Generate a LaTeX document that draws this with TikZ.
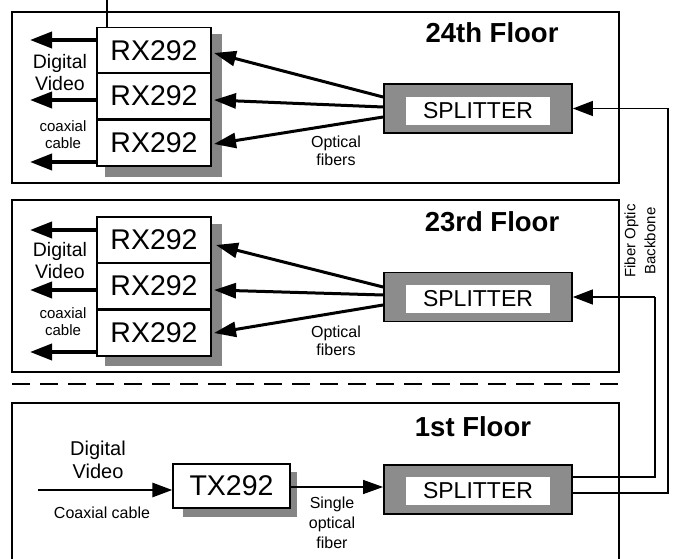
\documentclass[tikz,border=0pt]{standalone}
\usepackage{fontspec}
\setmainfont{Liberation Sans}
\usetikzlibrary{arrows.meta}
\definecolor{shadowgray}{HTML}{858585}
\definecolor{splitgray}{HTML}{8C8C8C}
\tikzset{
  floorbox/.style={draw, line width=1.3pt},
  rxbox/.style={draw, fill=white, line width=1.2pt, minimum width=114pt, minimum height=46pt, inner sep=0pt, font=\fontsize{28.5}{30}\selectfont},
  shadowbox/.style={fill=shadowgray},
  splitbox/.style={draw, fill=splitgray, line width=1.8pt, minimum width=188pt, minimum height=49pt, inner sep=0pt},
  splittext/.style={fill=white, minimum width=144pt, minimum height=28pt, inner sep=0pt, font=\fontsize{23}{25}\selectfont},
  floortitle/.style={inner sep=0pt, font=\bfseries\fontsize{27.5}{29}\selectfont},
  lbl/.style={inner sep=0pt, align=center, font=\fontsize{16}{18}\selectfont},
  lblbig/.style={inner sep=0pt, align=center, font=\fontsize{20}{23}\selectfont},
  outarrow/.style={line width=3.8pt, -{Triangle[length=22pt,width=16pt]}},
  fiberarrow/.style={line width=3pt, -{Triangle[length=22pt,width=15pt]}},
  inarrow/.style={line width=2.8pt, -{Triangle[length=20pt,width=14pt]}},
  thinarrow/.style={line width=1.3pt, -{Triangle[length=20pt,width=14pt]}},
  bbline/.style={line width=1.3pt},
  bbarrow/.style={line width=1.3pt, -{Triangle[length=20pt,width=15pt]}},
}
\begin{document}
\begin{tikzpicture}[x=1pt, y=-1pt]
\useasboundingbox (0,0) rectangle (673,559);

% ---------- floor boxes ----------
\draw[floorbox] (12,12) rectangle (619,183);
\draw[floorbox] (12,200) rectangle (619,372);
\draw[floorbox] (12,403) rectangle (619,570);
\draw[line width=1.3pt, dash pattern=on 18pt off 10pt] (12,384) -- (619,384);

% ---------- 24th floor ----------
\fill[shadowbox] (105,34) rectangle (222,177);
\node[rxbox] (r24a) at (154,50.5) {RX292};
\node[rxbox] (r24b) at (154,96) {RX292};
\node[rxbox] (r24c) at (154,143) {RX292};
\coordinate (top) at (107,0);
\draw[line width=1.2pt] (top) -- (top |- r24a.north);

\coordinate (o24a) at (30,40);
\coordinate (o24b) at (30,100);
\coordinate (o24c) at (30,162);
\draw[outarrow] (r24a.west |- o24a) -- (o24a);
\draw[outarrow] (r24b.west |- o24b) -- (o24b);
\draw[outarrow] (r24c.west |- o24c) -- (o24c);
\node[lbl, font=\fontsize{19.5}{22}\selectfont] (dv24) at (60,73) {Digital\\Video};
\node[lbl, font=\fontsize{15}{17}\selectfont] (cc24) at (63,134.5) {coaxial\\cable};

\node[splitbox] (s24) at (478,108.5) {};
\node[splittext] (s24t) at (478,111) {SPLITTER};
\node[floortitle] (f24) at (492,33) {24th Floor};

\coordinate (t24a) at (214,53);
\coordinate (t24b) at (214,100);
\coordinate (t24c) at (214,144);
\draw[fiberarrow] ([yshift=11.5pt]s24.west) -- (t24a);
\draw[fiberarrow] ([yshift=1.5pt]s24.west) -- (t24b);
\draw[fiberarrow] ([yshift=-8.5pt]s24.west) -- (t24c);
\node[lbl] (of24) at (336,151) {Optical\\fibers};

% ---------- 23rd floor ----------
\fill[shadowbox] (105,224) rectangle (222,366);
\node[rxbox] (r23a) at (154,240) {RX292};
\node[rxbox] (r23b) at (154,286) {RX292};
\node[rxbox] (r23c) at (154,333) {RX292};

\coordinate (o23a) at (30,230);
\coordinate (o23b) at (30,290);
\coordinate (o23c) at (30,352);
\draw[outarrow] (r23a.west |- o23a) -- (o23a);
\draw[outarrow] (r23b.west |- o23b) -- (o23b);
\draw[outarrow] (r23c.west |- o23c) -- (o23c);
\node[lbl, font=\fontsize{19.5}{22}\selectfont] (dv23) at (60,261) {Digital\\Video};
\node[lbl, font=\fontsize{15}{17}\selectfont] (cc23) at (63,322) {coaxial\\cable};

\node[splitbox] (s23) at (478,297) {};
\node[splittext] (s23t) at (478,299) {SPLITTER};
\node[floortitle] (f23) at (492,222) {23rd Floor};

\coordinate (t23a) at (216,245);
\coordinate (t23b) at (214,290);
\coordinate (t23c) at (214,333);
\draw[fiberarrow] ([yshift=10pt]s23.west) -- (t23a);
\draw[fiberarrow] ([yshift=2pt]s23.west) -- (t23b);
\draw[fiberarrow] ([yshift=-8pt]s23.west) -- (t23c);
\node[lbl] (of23) at (336,341) {Optical\\fibers};

% ---------- 1st floor ----------
\fill[shadowbox] (183,472) rectangle (297,517);
\node[rxbox, minimum width=117pt, minimum height=44pt] (tx) at (231.5,486) {TX292};
\coordinate (in1) at (38,490);
\draw[inarrow] (in1) -- (tx.west |- in1);
\node[lblbig] (dv1) at (98,459.5) {Digital\\Video};
\node[lbl] (cc1) at (102,513) {Coaxial cable};

\node[splitbox] (s1) at (478,489.5) {};
\node[splittext] (s1t) at (478,491) {SPLITTER};
\node[floortitle] (f1) at (473,427) {1st Floor};
\draw[thinarrow] (tx.east |- 0,487) -- (s1.west |- 0,487);
\node[lbl, font=\fontsize{16}{20}\selectfont] (sof) at (332,523) {Single\\optical\\fiber};

% ---------- backbone ----------
\coordinate (b23) at (655,297);
\coordinate (b24) at (668,108.5);
\draw[bbline] ([yshift=12.5pt]s1.east) -| (b23);
\draw[bbarrow] (b23) -- (s23.east);
\draw[bbline] ([yshift=-3.5pt]s1.east) -| (b24);
\draw[bbarrow] (b24) -- (s24.east);
\node[lbl, rotate=90, font=\fontsize{15}{20}\selectfont] (fob) at (640,241) {Fiber Optic\\Backbone};
\end{tikzpicture}
\end{document}
